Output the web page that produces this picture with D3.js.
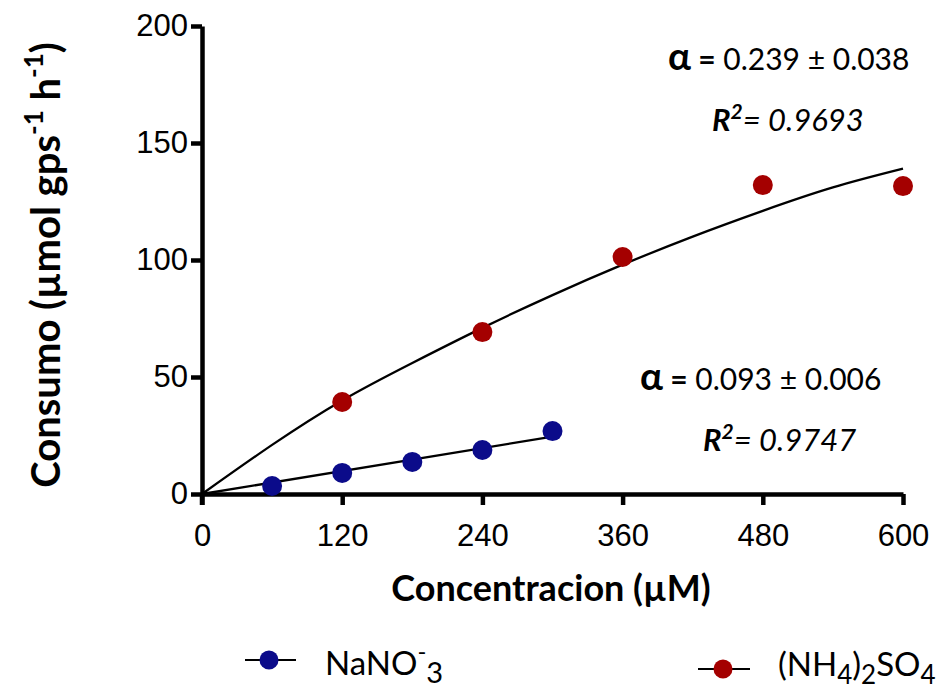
<!DOCTYPE html>
<html>
<head>
<meta charset="utf-8">
<script src="https://cdn.jsdelivr.net/npm/d3@7"></script>
<style>
  body { margin: 0; background: #fff; }
  svg { font-family: Lato, 'Open Sans', sans-serif; }
  .axis path, .axis line { stroke: #000; stroke-width: 4.5px; }
  .axis text { font-size: 31px; fill: #000; }
</style>
</head>
<body>
<div id="chart"></div>
<script>
// concentrations (µM) and uptake values
var nitrateX = [60, 120, 180, 240, 300]
var nitrateY = [3.4, 9, 13.7, 18.8, 26.9]
var ammoniumX = [120, 240, 360, 480, 600]
var ammoniumY = [39.3, 69.2, 101.3, 132, 131.6]

// fitted lines, as drawn in the figure
var nitrateFitX = [0, 300]
var nitrateFitY = [0, 24.5]
var ammoniumFitX = [0, 60, 120, 180, 240, 300, 360, 420, 480, 540, 600]
var ammoniumFitY = [0, 21, 40, 56, 71, 85, 98, 110, 121, 131, 139]

var xTicks = [0, 120, 240, 360, 480, 600]
var yTicks = [0, 50, 100, 150, 200]

var blue = '#0b0b8a', red = '#a40000'

var svg = d3.select('#chart').append('svg').attr('width', 948).attr('height', 689)

var x = d3.scaleLinear().domain([0, 600]).range([202, 903])
var y = d3.scaleLinear().domain([0, 200]).range([494, 26])

var zip = function(a, b){ return a.map(function(d, i){ return [d, b[i]] }) }

// axes
svg.append('g').attr('class', 'axis')
  .attr('transform', 'translate(0,494)')
  .call(d3.axisBottom(x).tickValues(xTicks).tickSize(11).tickSizeOuter(0).tickPadding(19))
svg.append('g').attr('class', 'axis')
  .attr('transform', 'translate(202,0)')
  .call(d3.axisLeft(y).tickValues(yTicks).tickSize(11).tickSizeOuter(0).tickPadding(3))
svg.append('line').attr('x1', 202).attr('x2', 202).attr('y1', 494).attr('y2', 505)
  .attr('stroke', '#000').attr('stroke-width', 4.5)

// fit lines
var line = d3.line().x(function(d){ return x(d[0]) }).y(function(d){ return y(d[1]) })
svg.append('path').attr('d', line.curve(d3.curveNatural)(zip(ammoniumFitX, ammoniumFitY)))
  .attr('fill', 'none').attr('stroke', '#000').attr('stroke-width', 2.3)
svg.append('path').attr('d', line.curve(d3.curveLinear)(zip(nitrateFitX, nitrateFitY)))
  .attr('fill', 'none').attr('stroke', '#000').attr('stroke-width', 2.3)

// points
svg.selectAll('circle.nit').data(zip(nitrateX, nitrateY)).enter().append('circle')
  .attr('cx', function(d){ return x(d[0]) }).attr('cy', function(d){ return y(d[1]) })
  .attr('r', 10).attr('fill', blue)
svg.selectAll('circle.amm').data(zip(ammoniumX, ammoniumY)).enter().append('circle')
  .attr('cx', function(d){ return x(d[0]) }).attr('cy', function(d){ return y(d[1]) })
  .attr('r', 10).attr('fill', red)

// axis titles
var yt = svg.append('text').attr('transform', 'translate(60,265) rotate(-90)')
  .attr('text-anchor', 'middle').style('font-size', '40px').style('font-weight', 700)
yt.append('tspan').text('Consumo (µmol gps')
yt.append('tspan').attr('dy', -17).style('font-size', '26px').text('-1')
yt.append('tspan').attr('dy', 17).text(' h')
yt.append('tspan').attr('dy', -17).style('font-size', '26px').text('-1')
yt.append('tspan').attr('dy', 17).text(')')

svg.append('text').attr('x', 551).attr('y', 601).attr('text-anchor', 'middle')
  .style('font-size', '36px').style('font-weight', 700).text('Concentracion (µM)')

// annotations
function alpha(xp, yp, txt){
  var t = svg.append('text').attr('x', xp).attr('y', yp).style('font-size', '30px')
  t.append('tspan').style('font-weight', 700).style('font-size', '38px').text('α')
  t.append('tspan').style('font-weight', 700).text(' =')
  t.append('tspan').text(' ' + txt)
}
function rsq(xp, yp, txt){
  var t = svg.append('text').attr('x', xp).attr('y', yp).style('font-size', '31px').style('font-style', 'italic')
  t.append('tspan').style('font-weight', 700).text('R')
  t.append('tspan').attr('dy', -12).style('font-weight', 700).style('font-size', '21px').text('2')
  t.append('tspan').attr('dy', 12).text('= ' + txt)
}
alpha(668, 70, '0.239 ± 0.038')
rsq(712, 131, '0.9693')
alpha(640, 390, '0.093 ± 0.006')
rsq(703, 451, '0.9747')

// legend
function legendItem(cx, cy, x0, x1, color){
  svg.append('line').attr('x1', x0).attr('x2', x1).attr('y1', cy).attr('y2', cy)
    .attr('stroke', '#000').attr('stroke-width', 2)
  svg.append('circle').attr('cx', cx).attr('cy', cy).attr('r', 9.5).attr('fill', color)
}
legendItem(269, 660, 245, 296, blue)
legendItem(723, 669, 698, 750, red)

var l1 = svg.append('text').attr('x', 325).attr('y', 675).style('font-size', '33px')
l1.append('tspan').text('NaNO')
l1.append('tspan').attr('dy', -15).style('font-size', '24px').text('-')
l1.append('tspan').attr('dy', 23).style('font-size', '29px').text('3')

var l2 = svg.append('text').attr('x', 778).attr('y', 676).style('font-size', '33px')
l2.append('tspan').text('(NH')
l2.append('tspan').attr('dy', 8).style('font-size', '26px').text('4')
l2.append('tspan').attr('dy', -8).text(')')
l2.append('tspan').attr('dy', 8).style('font-size', '26px').text('2')
l2.append('tspan').attr('dy', -8).text('SO')
l2.append('tspan').attr('dy', 8).style('font-size', '26px').text('4')
</script>
</body>
</html>
